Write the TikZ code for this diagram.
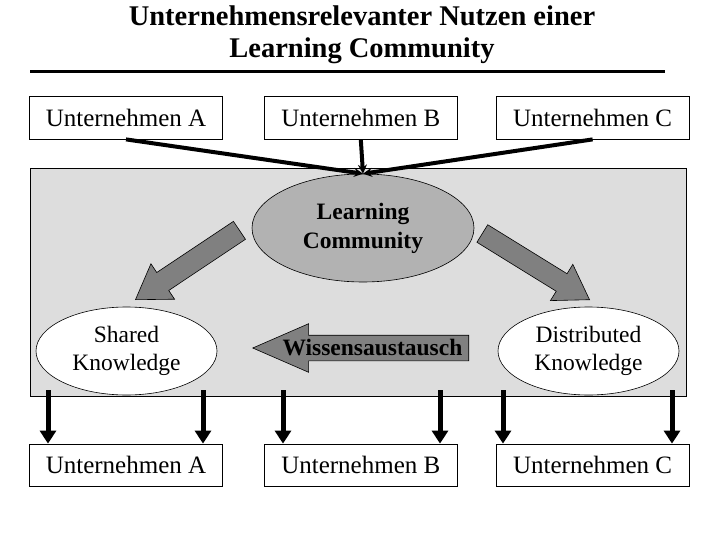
\documentclass[tikz,border=0pt]{standalone}
\usepackage{fontspec}
\setmainfont{Liberation Serif}
\usetikzlibrary{shapes.geometric, shapes.arrows, arrows.meta, positioning}
\definecolor{areagray}{RGB}{221,221,221}
\definecolor{poolgray}{RGB}{178,178,178}
\definecolor{flowgray}{RGB}{128,128,128}

\begin{document}
\begin{tikzpicture}[
    x=1pt, y=-1pt,
    every node/.style={font=\fontsize{25}{29}\selectfont},
    firmbox/.style={rectangle, draw, line width=0.8pt, minimum width=193pt, minimum height=43pt, inner sep=0pt, fill=white},
    knowbubble/.style={ellipse, draw, line width=0.6pt, minimum width=181pt, minimum height=88pt, align=center, inner sep=0pt, fill=#1, font=\fontsize{23.5}{28}\selectfont},
    blockarrow/.style={single arrow, draw, line width=0.6pt, fill=flowgray, inner xsep=0pt, single arrow head indent=0pt, anchor=tip},
    feedarrow/.style={-{Stealth[length=9pt, width=9pt]}, line width=4pt},
    droparrow/.style={-{Triangle[length=13pt, width=16pt]}, line width=5pt}
]
\useasboundingbox (0,0) rectangle (720,540);

\node[font=\fontsize{28.5}{32}\selectfont\bfseries, align=center, inner sep=0pt] (title) at (362,34.3) {Unternehmensrelevanter Nutzen einer\\Learning Community};
\draw[line width=3pt] (30,71.5) -- (665,71.5);

% community area
\node[rectangle, draw, line width=0.8pt, fill=areagray, minimum width=656pt, minimum height=228pt] (lcarea) at (358,282) {};
\node[knowbubble=poolgray, minimum width=222pt, minimum height=108pt, font=\fontsize{23.5}{29}\selectfont\bfseries] (lc) at (363,228) {Learning\\Community};
\node[knowbubble=white] (shared) at (126.5,351) {Shared\\Knowledge};
\node[knowbubble=white] (distributed) at (588.5,351) {Distributed\\Knowledge};

\node[blockarrow, rotate=213.7, inner ysep=10.5pt, minimum height=125pt, single arrow head extend=10.5pt, single arrow tip angle=66] (spreadL) at (135,300) {};
\node[blockarrow, rotate=-31.7, inner ysep=10pt, minimum height=126pt, single arrow head extend=11pt, single arrow tip angle=66] (spreadR) at (590,300) {};
\node[blockarrow, shape border rotate=180, inner ysep=12.5pt, minimum height=216pt, single arrow head extend=11.5pt, single arrow tip angle=47] (exchange) at (252,348) {};
\node[font=\fontsize{23.5}{28}\selectfont\bfseries, inner sep=0pt] (exchangelabel) at (372.5,348) {Wissensaustausch};

% firms
\node[firmbox] (topA) at (126,117.5) {Unternehmen A};
\node[firmbox, right=41pt of topA] (topB) {Unternehmen B};
\node[firmbox, right=38pt of topB] (topC) {Unternehmen C};

\node[firmbox, minimum height=42pt] (botA) at (126,465) {Unternehmen A};
\node[firmbox, minimum height=42pt, right=41pt of botA] (botB) {Unternehmen B};
\node[firmbox, minimum height=42pt, right=38pt of botB] (botC) {Unternehmen C};

\draw[feedarrow] (topA.south) -- (lc.north);
\draw[feedarrow] (topB.south) -- (lc.north);
\draw[feedarrow] (topC.south) -- (lc.north);

\foreach \px/\firm in {48/botA, 203/botA, 283/botB, 440/botB, 503/botC, 672/botC}
  \draw[droparrow] ([yshift=6pt]lcarea.south -| \px,0) -- (\px,0 |- \firm.north);

\end{tikzpicture}
\end{document}
